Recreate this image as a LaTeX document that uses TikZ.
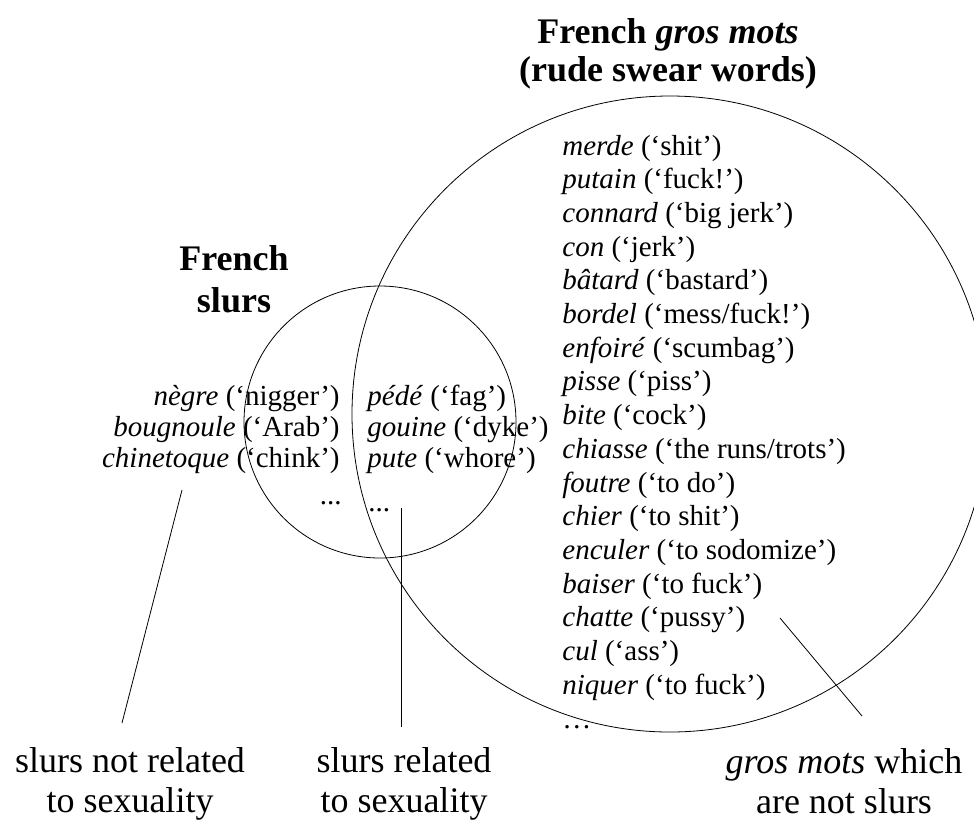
\documentclass[tikz,border=0pt]{standalone}
\usepackage{fontspec}
\setmainfont{Liberation Serif}

\begin{document}
\begin{tikzpicture}
  [x=1pt,y=-1pt,line width=0.8pt,
   word/.style={font=\fontsize{29}{34}\selectfont,inner sep=0pt},
   head/.style={font=\fontsize{36}{42}\selectfont\bfseries,inner sep=0pt},
   note/.style={font=\fontsize{36}{42}\selectfont,inner sep=0pt}]
  \useasboundingbox (0,0) rectangle (974,823);
  \clip (0,0) rectangle (974,823);
  % the two sets
  \draw (670,414) circle (318pt);
  \draw (380,422) circle (136pt);
  \node[head,anchor=base] (gros1) at (668,43) {French \textit{gros mots}};
  \node[head,anchor=base] (gros2) at (668,81) {(rude swear words)};
  \node[head,anchor=base] (slur1) at (234,270) {French};
  \node[head,anchor=base] (slur2) at (234,312) {slurs};
  % slurs
  \foreach \w/\g/\y [count=\i] in {nègre/nigger/405,bougnoule/Arab/436,chinetoque/chink/467}
    \node[word,anchor=base east] (race\i) at (340,\y) {\textit{\w} (`\g')};
  \foreach \w/\g/\y [count=\i] in {pédé/fag/405,gouine/dyke/436,pute/whore/467}
    \node[word,anchor=base west] (sex\i) at (367,\y) {\textit{\w} (`\g')};
  \node[word,anchor=base east] (raceetc) at (342,504) {...};
  \node[word,anchor=base west] (sexetc) at (368,511) {...};
  % gros mots
  \foreach \w/\g [count=\i] in {merde/shit,putain/fuck!,connard/big jerk,con/jerk,
    bâtard/bastard,bordel/{mess/fuck!},enfoiré/scumbag,pisse/piss,bite/cock,
    chiasse/{the runs/trots},foutre/to do,chier/to shit,enculer/to sodomize,
    baiser/to fuck,chatte/pussy,cul/ass,niquer/to fuck}
    \node[word,anchor=base west] (mot\i) at (562,{155+33.7*(\i-1)}) {\textit{\w} (`\g')};
  \node[word,anchor=base west] (motetc) at (562,728) {…};
  % captions
  \node[note,anchor=base] (capA1) at (130,772) {slurs not related};
  \node[note,anchor=base] (capA2) at (130,812) {to sexuality};
  \node[note,anchor=base] (capB1) at (404,772) {slurs related};
  \node[note,anchor=base] (capB2) at (404,812) {to sexuality};
  \node[note,anchor=base] (capC1) at (844,773) {\textit{gros mots} which};
  \node[note,anchor=base] (capC2) at (844,813) {are not slurs};
  \coordinate (tA) at (182,490);
  \coordinate (bA) at (122,723);
  \coordinate (tB) at (401,508);
  \coordinate (bB) at (401,727);
  \coordinate (tC) at (780,618);
  \coordinate (bC) at (862,716);
  \foreach \from/\to in {tA/bA,tB/bB,tC/bC}
    \draw (\from) -- (\to);
\end{tikzpicture}
\end{document}
